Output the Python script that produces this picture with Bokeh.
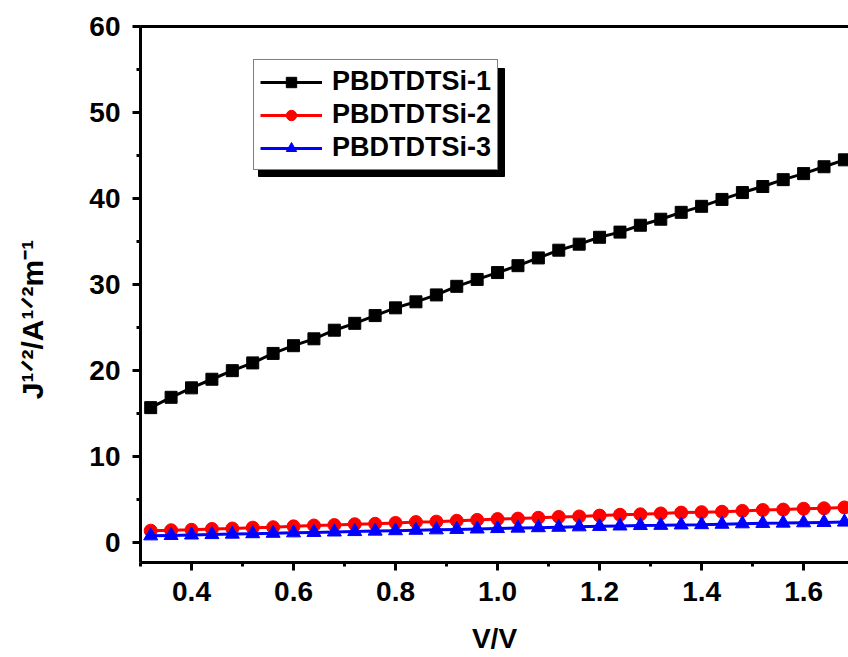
from bokeh.plotting import figure
from bokeh.models import (Legend, LegendItem, LinearAxis, FixedTicker,
                          SingleIntervalTicker, Range1d, BoxAnnotation,
                          PrintfTickFormatter)
from bokeh.embed import file_html
from bokeh.resources import INLINE

# ---- data ----
voltage = [0.32, 0.36, 0.40, 0.44, 0.48, 0.52, 0.56, 0.60, 0.64, 0.68,
           0.72, 0.76, 0.80, 0.84, 0.88, 0.92, 0.96, 1.00, 1.04, 1.08,
           1.12, 1.16, 1.20, 1.24, 1.28, 1.32, 1.36, 1.40, 1.44, 1.48,
           1.52, 1.56, 1.60, 1.64, 1.68]
si1 = [15.7, 16.9, 18.0, 19.0, 20.0, 20.9, 22.0, 22.9, 23.7, 24.7,
       25.5, 26.4, 27.3, 28.0, 28.8, 29.8, 30.6, 31.4, 32.2, 33.1,
       34.0, 34.7, 35.5, 36.1, 36.9, 37.6, 38.4, 39.1, 39.9, 40.7,
       41.4, 42.2, 42.9, 43.7, 44.5]
si2 = [1.40, 1.45, 1.50, 1.60, 1.65, 1.75, 1.80, 1.90, 2.00, 2.05,
       2.15, 2.20, 2.30, 2.40, 2.45, 2.55, 2.65, 2.75, 2.80, 2.90,
       3.00, 3.05, 3.15, 3.25, 3.30, 3.40, 3.50, 3.55, 3.60, 3.70,
       3.80, 3.85, 3.95, 4.00, 4.10]
si3 = [0.80, 0.85, 0.90, 0.95, 1.00, 1.05, 1.10, 1.15, 1.20, 1.25,
       1.30, 1.35, 1.40, 1.45, 1.50, 1.55, 1.60, 1.65, 1.70, 1.75,
       1.80, 1.85, 1.90, 1.95, 2.00, 2.02, 2.07, 2.10, 2.15, 2.20,
       2.25, 2.28, 2.32, 2.36, 2.40]
series_names = ["PBDTDTSi-1", "PBDTDTSi-2", "PBDTDTSi-3"]
x_title = "V/V"
y_title = "J\u00b9\u141f\u00b2/A\u00b9\u141f\u00b2m\u207b\u00b9" + "\u00a0" * 6

FONT = "Liberation Sans"

p = figure(width=848, height=657, output_backend="svg", toolbar_location=None,
           x_range=Range1d(0.3, 1.688), y_range=Range1d(-2.3, 60))
p.min_border_left = 140
p.min_border_right = 0
p.min_border_top = 26
p.min_border_bottom = 95
p.outline_line_color = None
p.xgrid.visible = False
p.ygrid.visible = False
p.background_fill_color = "white"
p.border_fill_color = "white"

p.xaxis.ticker = SingleIntervalTicker(interval=0.2, num_minor_ticks=2)
p.xaxis.formatter = PrintfTickFormatter(format="%.1f")
p.yaxis.ticker = SingleIntervalTicker(interval=10, num_minor_ticks=2)
for ax in (p.xaxis[0], p.yaxis[0]):
    ax.axis_line_width = 3
    ax.major_tick_line_width = 3
    ax.minor_tick_line_width = 3
    ax.major_tick_out = 8
    ax.major_tick_in = 0
    ax.minor_tick_out = 4
    ax.minor_tick_in = 0
    ax.major_label_text_font = FONT
    ax.major_label_text_font_style = "bold"
    ax.major_label_text_font_size = "28px"
    ax.major_label_text_color = "black"
    ax.axis_label_text_font = FONT
    ax.axis_label_text_font_style = "bold"
    ax.axis_label_text_color = "black"
p.xaxis.major_label_standoff = 11
p.yaxis.major_label_standoff = 12
p.xaxis.axis_label = x_title
p.xaxis.axis_label_text_font_size = "28px"
p.xaxis.axis_label_standoff = 19
p.yaxis.axis_label = y_title
p.yaxis.axis_label_text_font_size = "30px"
p.yaxis.axis_label_standoff = 37

top = LinearAxis(ticker=FixedTicker(ticks=[]), axis_line_width=3)
p.add_layout(top, "above")

colors = ["black", "#ff0000", "#0000ff"]
markers = ["square", "circle", "triangle"]
sizes = [12, 13, 14]
rends = []
for ys, c, m, s in zip([si1, si2, si3], colors, markers, sizes):
    ln = p.line(voltage, ys, line_color=c, line_width=3)
    sc = p.scatter(voltage, ys, marker=m, size=s, fill_color=c, line_color=c)
    rends.append([ln, sc])

# legend shadow (screen units relative to the frame)
p.add_layout(BoxAnnotation(left=118, right=364, bottom=386, top=494,
                           left_units="screen", right_units="screen",
                           bottom_units="screen", top_units="screen",
                           fill_color="black", fill_alpha=1,
                           line_color="black", line_alpha=1))

items = [LegendItem(label=n, renderers=r) for n, r in zip(series_names, rends)]
legend = Legend(items=items, location=(113, 392), background_fill_color="white",
                background_fill_alpha=1, border_line_color="black",
                border_line_width=1, label_text_font=FONT,
                label_text_font_style="bold", label_text_font_size="27px",
                label_text_color="black", glyph_width=62, glyph_height=26,
                label_height=26, spacing=2, padding=6, margin=0,
                label_standoff=10)
p.add_layout(legend, "center")

open("out.html", "w").write(file_html(p, INLINE))
